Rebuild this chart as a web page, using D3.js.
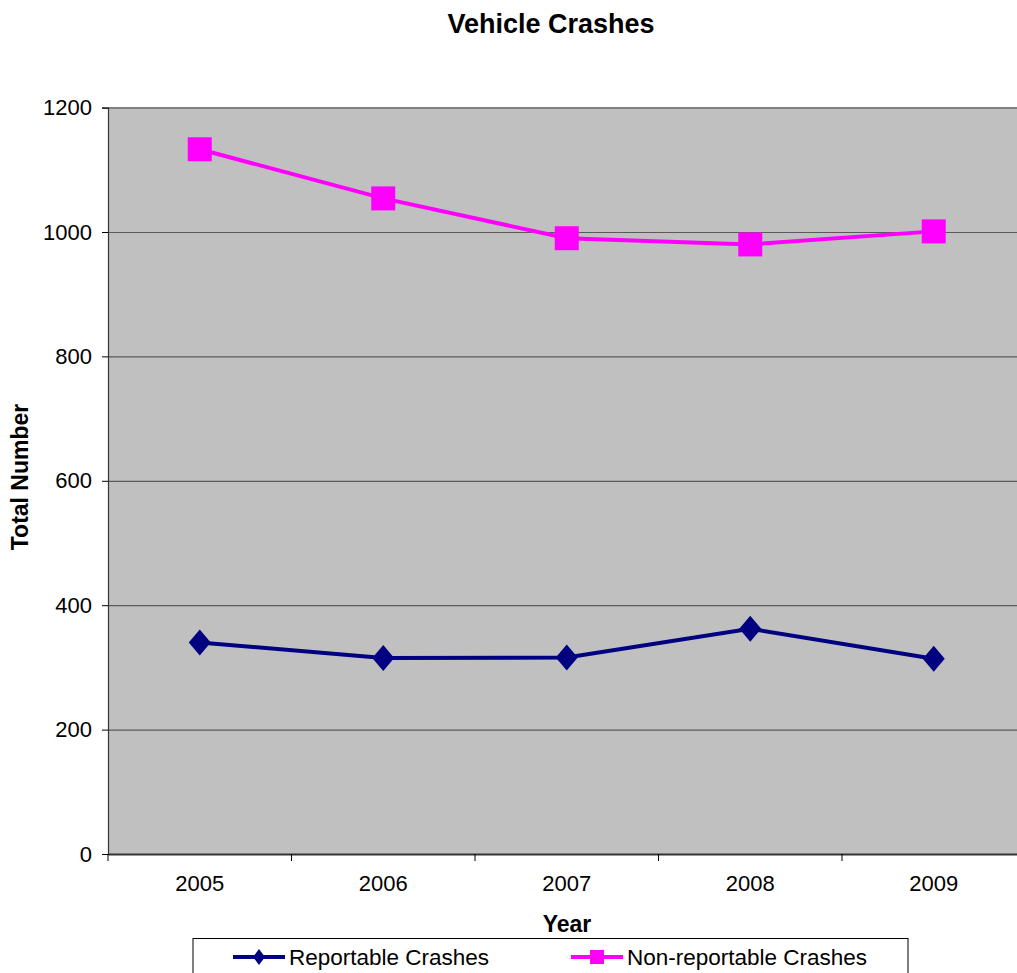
<!DOCTYPE html>
<html>
<head>
<meta charset="utf-8">
<script src="https://cdn.jsdelivr.net/npm/d3@7"></script>
<style>
  html, body { margin: 0; padding: 0; background: #fff; }
  svg { display: block; font-family: "Liberation Sans", Arial, sans-serif; }
</style>
</head>
<body>
<svg id="chart" width="1017" height="973"></svg>
<script>
const years = ["2005", "2006", "2007", "2008", "2009"];
const reportable = [340, 315, 316, 362, 314];
const nonReportable = [1133, 1054, 990, 980, 1001];
const yTicks = [0, 200, 400, 600, 800, 1000, 1200];
const seriesNames = ["Reportable Crashes", "Non-reportable Crashes"];

(function () {
const svg = d3.select("#chart");
const pL = 108, pR = 1025.5, pT = 107.6, pB = 854;

const x = d3.scaleBand().domain(years).range([pL, pR]);
const y = d3.scaleLinear().domain([0, 1200]).range([pB, pT]);

// Title
svg.append("text").attr("x", 551).attr("y", 33).attr("text-anchor", "middle")
  .attr("font-size", 27).attr("font-weight", "bold").text("Vehicle Crashes");

// Plot area
svg.append("rect").attr("x", pL).attr("y", pT).attr("width", pR - pL).attr("height", pB - pT)
  .attr("fill", "#c0c0c0");

// Gridlines
const grid = svg.append("g").attr("transform", `translate(${pL},0)`)
  .call(d3.axisLeft(y).tickValues(yTicks.filter(d => d > 0)).tickSize(-(pR - pL)).tickFormat(""));
grid.select(".domain").remove();
grid.selectAll("line").attr("stroke", "#5a5a5a").attr("stroke-width", 1.2);
grid.selectAll("line").filter(d => d === 1200).attr("stroke", "#808080").attr("stroke-width", 2);

// Y axis
const yAxis = svg.append("g").attr("transform", `translate(${pL},0)`)
  .call(d3.axisLeft(y).tickValues(yTicks).tickFormat(d3.format("d")).tickSize(6).tickPadding(10));
yAxis.select(".domain").attr("stroke", "#333").attr("stroke-width", 1.2);
yAxis.selectAll("line").attr("stroke", "#000");
yAxis.selectAll("text").attr("font-size", 22).attr("fill", "#000").attr("font-family", "Liberation Sans, Arial, sans-serif");

// X axis
const xAxis = svg.append("g").attr("transform", `translate(0,${pB})`)
  .call(d3.axisBottom(x).tickSize(0).tickPadding(21));
xAxis.select(".domain").attr("stroke", "#333").attr("stroke-width", 2);
xAxis.selectAll("text").attr("font-size", 22).attr("fill", "#000").attr("font-family", "Liberation Sans, Arial, sans-serif");
const bounds = years.map(d => x(d)).concat([x(years[years.length - 1]) + x.bandwidth()]);
svg.append("g").selectAll("line").data(bounds).join("line")
  .attr("x1", d => d).attr("x2", d => d).attr("y1", pB).attr("y2", pB + 7)
  .attr("stroke", "#000").attr("stroke-width", 1);

// Axis titles
svg.append("text").attr("transform", "translate(28,477) rotate(-90)").attr("text-anchor", "middle")
  .attr("font-size", 23).attr("font-weight", "bold").text("Total Number");
svg.append("text").attr("x", 567).attr("y", 932).attr("text-anchor", "middle")
  .attr("font-size", 23).attr("font-weight", "bold").text("Year");

const cx = d => x(d) + x.bandwidth() / 2;
const line = d3.line().x((v, i) => cx(years[i])).y(v => y(v));

// Non-reportable (magenta)
svg.append("path").datum(nonReportable).attr("d", line).attr("fill", "none")
  .attr("stroke", "#ff00ff").attr("stroke-width", 4);
svg.append("g").selectAll("rect").data(nonReportable).join("rect")
  .attr("x", (v, i) => cx(years[i]) - 12).attr("y", v => y(v) - 12)
  .attr("width", 24).attr("height", 24).attr("fill", "#ff00ff");

// Reportable (navy)
svg.append("path").datum(reportable).attr("d", line).attr("fill", "none")
  .attr("stroke", "#000080").attr("stroke-width", 4);
const diamond = (w, h) => `M0,${-h} L${w},0 L0,${h} L${-w},0 Z`;
svg.append("g").selectAll("path").data(reportable).join("path")
  .attr("transform", (v, i) => `translate(${cx(years[i])},${y(v)})`)
  .attr("d", diamond(11, 13)).attr("fill", "#000080");

// Legend
const lg = svg.append("g");
lg.append("rect").attr("x", 193).attr("y", 938.5).attr("width", 715).attr("height", 60)
  .attr("fill", "#fff").attr("stroke", "#000").attr("stroke-width", 1);
const legendItems = [
  { name: seriesNames[0], color: "#000080", x1: 233, shape: "diamond" },
  { name: seriesNames[1], color: "#ff00ff", x1: 571, shape: "square" }
];
const ly = 957;
legendItems.forEach(it => {
  lg.append("line").attr("x1", it.x1).attr("x2", it.x1 + 52).attr("y1", ly).attr("y2", ly)
    .attr("stroke", it.color).attr("stroke-width", 4);
  const mx = it.x1 + 26;
  if (it.shape === "diamond") {
    lg.append("path").attr("transform", `translate(${mx},${ly})`).attr("d", diamond(6, 8)).attr("fill", it.color);
  } else {
    lg.append("rect").attr("x", mx - 7).attr("y", ly - 7).attr("width", 14).attr("height", 14).attr("fill", it.color);
  }
  lg.append("text").attr("x", it.x1 + 56).attr("y", ly + 8).attr("font-size", 22.5).text(it.name);
});
})();
</script>
</body>
</html>
